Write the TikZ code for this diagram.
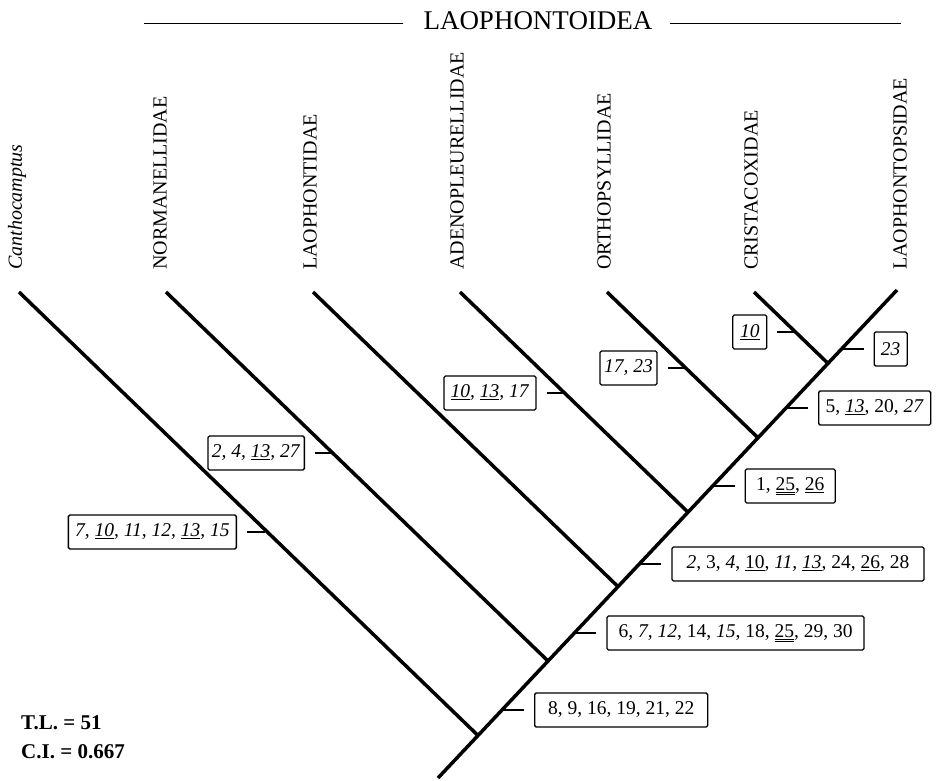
\documentclass[tikz,border=0pt]{standalone}
\usepackage{fontspec}
\setmainfont{Liberation Serif}
\usepackage{tikz}
\newcommand{\unl}[1]{\underline{#1}}
\newcommand{\dunl}[1]{\underline{\underline{#1}}}

\begin{document}
\begin{tikzpicture}[x=1pt, y=-1pt,
    branch/.style={line width=3.5pt},
    tick/.style={line width=1.4pt},
    chars/.style={rectangle, draw, line width=1.3pt, rounded corners=1.5pt, minimum height=34pt, inner xsep=4pt, inner ysep=0pt, font=\fontsize{19.5}{22}\selectfont},
    taxon/.style={rotate=90, anchor=west, inner sep=0pt, font=\fontsize{20}{24}\selectfont}]
    \useasboundingbox (0,0) rectangle (937,780);

    \node[font=\fontsize{27}{30}\selectfont, inner sep=0pt] (group) at (538,21) {LAOPHONTOIDEA};
    \draw[line width=1.4pt] (group.west) ++(-20,2.5) -- ++(-259,0);
    \draw[line width=1.4pt] (group.east) ++(17,2.5) -- ++(231,0);

    \coordinate (root) at (438,778);
    \coordinate (j1) at (478,735.5);
    \coordinate (j2) at (548,661);
    \coordinate (j3) at (618,586.6);
    \coordinate (j4) at (688,512.2);
    \coordinate (j5) at (758,437.8);
    \coordinate (j6) at (828,363.4);
    \coordinate (top) at (897,290);
    \coordinate (canth) at (19,292);
    \coordinate (norm) at (166,292);
    \coordinate (laoph) at (313,292);
    \coordinate (adeno) at (460,292);
    \coordinate (ortho) at (607,292);
    \coordinate (crista) at (754,292);

    \draw[branch] (root) -- (top);
    \draw[branch] (canth) -- (j1);
    \draw[branch] (norm) -- (j2);
    \draw[branch] (laoph) -- (j3);
    \draw[branch] (adeno) -- (j4);
    \draw[branch] (ortho) -- (j5);
    \draw[branch] (crista) -- (j6);

    \node[taxon] (lcanth) at (17,270) {\textit{Canthocamptus}};
    \node[taxon] (lnorm) at (160,270) {NORMANELLIDAE};
    \node[taxon] (llaoph) at (310,270) {LAOPHONTIDAE};
    \node[taxon] (ladeno) at (457,270) {ADENOPLEURELLIDAE};
    \node[taxon] (lortho) at (604,270) {ORTHOPSYLLIDAE};
    \node[taxon] (lcrista) at (751,270) {CRISTACOXIDAE};
    \node[taxon] (llaops) at (900,270) {LAOPHONTOPSIDAE};

    \node[chars, anchor=east, minimum width=168pt] (c1) at (237,532) {\textit{7, \unl{10}, 11, 12, \unl{13}, 15}};
    \node[chars, anchor=east, minimum width=96pt] (c2) at (305,453) {\textit{2, 4, \unl{13}, 27}};
    \node[chars, anchor=east, minimum width=92pt] (c3) at (536.6,393) {\textit{\unl{10}, \unl{13}, 17}};
    \node[chars, anchor=east, minimum width=57pt] (c4) at (657.7,368) {\textit{17, 23}};
    \node[chars, anchor=east, minimum width=34pt] (c5) at (767.4,332) {\textit{\unl{10}}};
    \node[chars, anchor=west, minimum width=33pt] (c6) at (873.5,349) {\textit{23}};
    \node[chars, anchor=west, minimum width=112pt] (c7) at (818,408) {5, \textit{\unl{13}}, 20, \textit{27}};
    \node[chars, anchor=west, minimum width=90pt] (c8) at (744.6,486) {1, \dunl{25}, \unl{26}};
    \node[chars, anchor=west, minimum width=252pt] (c9) at (671.3,564) {\textit{2}, 3, \textit{4}, \unl{10}, \textit{11, \unl{13}}, 24, \unl{26}, 28};
    \node[chars, anchor=west, minimum width=257pt] (c10) at (606.4,633) {6, \textit{7}, \textit{12}, 14, \textit{15}, 18, \dunl{25}, 29, 30};
    \node[chars, anchor=west, minimum width=173pt] (c11) at (534,710) {8, 9, 16, 19, 21, 22};

    \draw[tick] (c1.east) ++(10,0) -- ++(18,0);
    \draw[tick] (c2.east) ++(10,0) -- ++(18,0);
    \draw[tick] (c3.east) ++(10,0) -- ++(18,0);
    \draw[tick] (c4.east) ++(10,0) -- ++(18,0);
    \draw[tick] (c5.east) ++(10,0) -- ++(18,0);
    \draw[tick] (c6.west) ++(-10,0) -- ++(-22,0);
    \draw[tick] (c7.west) ++(-10,0) -- ++(-22,0);
    \draw[tick] (c8.west) ++(-10,0) -- ++(-22,0);
    \draw[tick] (c9.west) ++(-10,0) -- ++(-22,0);
    \draw[tick] (c10.west) ++(-10,0) -- ++(-22,0);
    \draw[tick] (c11.west) ++(-10,0) -- ++(-22,0);

    \node[font=\fontsize{21}{24}\selectfont\bfseries, anchor=base west, inner sep=0pt] (tl) at (21,729) {T.L. = 51};
    \node[font=\fontsize{21}{24}\selectfont\bfseries, anchor=base west, inner sep=0pt] (ci) at (21,758) {C.I. = 0.667};
\end{tikzpicture}
\end{document}
